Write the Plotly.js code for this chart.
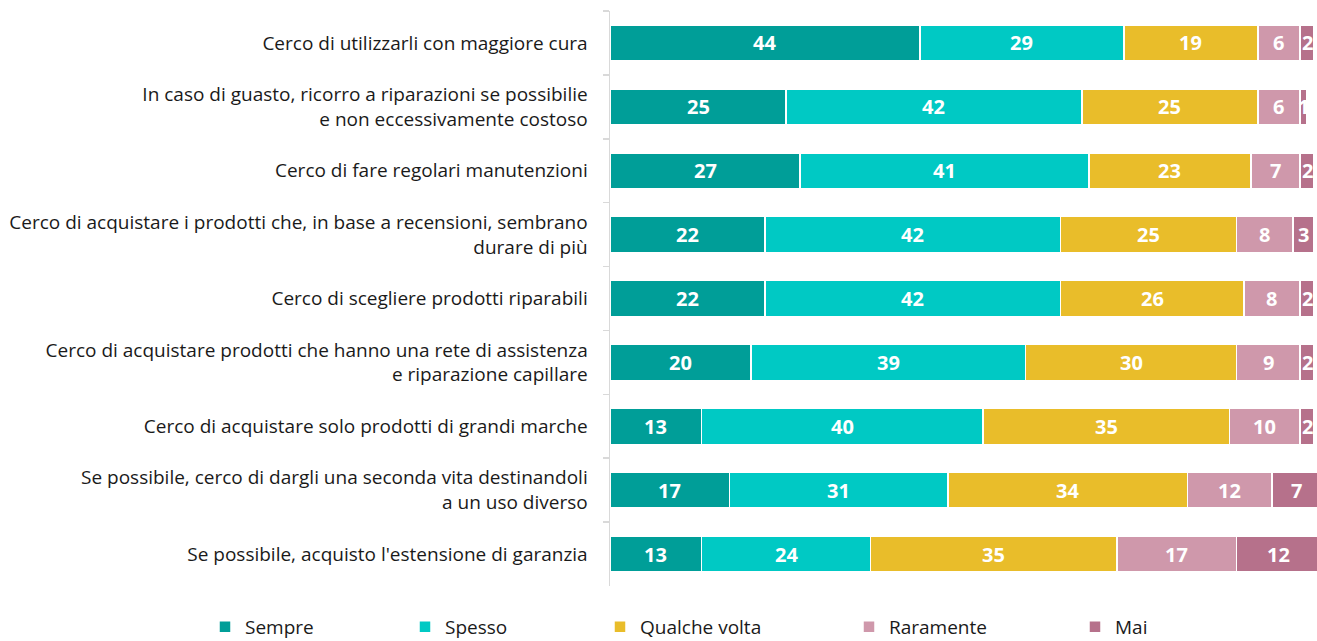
<!DOCTYPE html>
<html>
<head>
<meta charset="utf-8">
<script src="https://cdn.plot.ly/plotly-3.0.1.min.js"></script>
<style>
html,body{margin:0;padding:0;background:#fff;}
#chart{width:1317px;height:641px;}
</style>
</head>
<body>
<div id="chart"></div>
<script>
const categories = [
  "Cerco di utilizzarli con maggiore cura",
  "In caso di guasto, ricorro a riparazioni se possibilie<br>e non eccessivamente costoso",
  "Cerco di fare regolari manutenzioni",
  "Cerco di acquistare i prodotti che, in base a recensioni, sembrano<br>durare di più",
  "Cerco di scegliere prodotti riparabili",
  "Cerco di acquistare prodotti che hanno una rete di assistenza<br>e riparazione capillare",
  "Cerco di acquistare solo prodotti di grandi marche",
  "Se possibile, cerco di dargli una seconda vita destinandoli<br>a un uso diverso",
  "Se possibile, acquisto l'estensione di garanzia"
];
const seriesNames = ["Sempre", "Spesso", "Qualche volta", "Raramente", "Mai"];
const sempre       = [44, 25, 27, 22, 22, 20, 13, 17, 13];
const spesso       = [29, 42, 41, 42, 42, 39, 40, 31, 24];
const qualcheVolta = [19, 25, 23, 25, 26, 30, 35, 34, 35];
const raramente    = [6, 6, 7, 8, 8, 9, 10, 12, 17];
const mai          = [2, 1, 2, 3, 2, 2, 2, 7, 12];
const colors = ["#009e98", "#00c9c4", "#e9bd2a", "#cf98ab", "#b6718b"];

const allSeries = [sempre, spesso, qualcheVolta, raramente, mai];
const legendX = [218, 418, 613, 862, 1088];

const traces = allSeries.map((vals, i) => ({
  type: "bar",
  orientation: "h",
  name: seriesNames[i],
  x: vals,
  y: categories,
  marker: {color: colors[i], line: {color: "#ffffff", width: 1.5}},
  legend: i === 0 ? "legend" : "legend" + (i + 1),
  hoverinfo: "x+name"
}));

const annotations = [];
categories.forEach((c, r) => {
  let cum = 0;
  allSeries.forEach((vals) => {
    const v = vals[r];
    annotations.push({
      x: cum + v / 2, y: c, xref: "x", yref: "y",
      text: String(v), showarrow: false,
      font: {family: "Open Sans", size: 20, color: "#ffffff", weight: "bold"}
    });
    cum += v;
  });
});

const layout = {
  width: 1317, height: 641,
  margin: {l: 610, r: 0, t: 11, b: 55},
  paper_bgcolor: "#ffffff", plot_bgcolor: "#ffffff",
  barmode: "stack",
  bargap: 0.4375,
  font: {family: "Open Sans", size: 19, color: "#1a1a1a"},
  xaxis: {range: [0, 100.4], showgrid: false, zeroline: false, showticklabels: false, showline: false, fixedrange: true},
  yaxis: {
    type: "category",
    categoryorder: "array",
    categoryarray: categories,
    autorange: "reversed",
    showgrid: false, zeroline: false,
    showline: true, linecolor: "#d9d9d9", linewidth: 1.5,
    ticks: "outside", ticklen: 6, tickcolor: "#d9d9d9", tickwidth: 1.5,
    tickson: "boundaries",
    ticklabelstandoff: 17,
    tickfont: {family: "Open Sans", size: 19, color: "#1a1a1a"}
  },
  annotations: annotations,
  showlegend: true
};
legendX.forEach((px, i) => {
  const key = i === 0 ? "legend" : "legend" + (i + 1);
  layout[key] = {
    orientation: "h",
    xref: "container", yref: "container",
    x: (px - 13) / 1317, xanchor: "left",
    y: 1 - 627 / 641, yanchor: "middle",
    bgcolor: "rgba(0,0,0,0)",
    font: {family: "Open Sans", size: 19, color: "#1a1a1a"}
  };
});

Plotly.newPlot("chart", traces, layout, {displayModeBar: false, staticPlot: true});
</script>
</body>
</html>
